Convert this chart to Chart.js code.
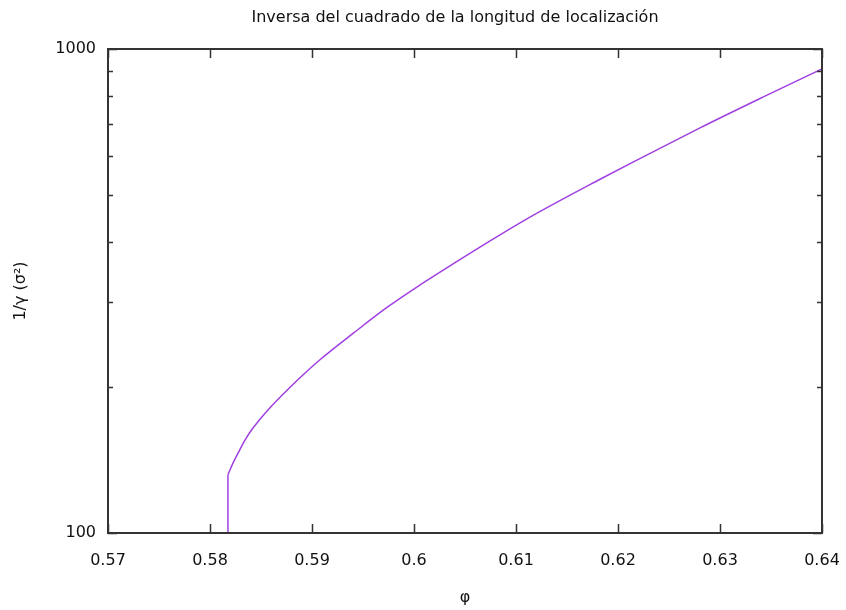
<!DOCTYPE html>
<html>
<head>
<meta charset="utf-8">
<script src="https://cdn.jsdelivr.net/npm/chart.js@4.4.1/dist/chart.umd.min.js"></script>
<style>
  body { margin: 0; background: #fff; }
</style>
</head>
<body>
<canvas id="myChart" width="846" height="610"></canvas>
<script>
// values
const edgePhi = [0.58176, 0.58176];
const edgeValue = [100, 132];
const phi = [0.58176, 0.58225, 0.58275, 0.58343, 0.58412, 0.5849, 0.58588, 0.58755,
  0.58882, 0.59078, 0.59402, 0.59735, 0.60059, 0.60402, 0.60843, 0.61167,
  0.61824, 0.62147, 0.62804, 0.63461, 0.64];
const invGamma = [132, 139.4, 146.2, 155.5, 163.8, 171.8, 181.5, 197.2,
  209.3, 228, 258.4, 292.4, 325.4, 361.9, 413.1, 453.2,
  538.2, 584, 687, 802.7, 910];
const xTicks = [0.57, 0.58, 0.59, 0.6, 0.61, 0.62, 0.63, 0.64];
const yTicks = [100, 200, 300, 400, 500, 600, 700, 800, 900, 1000];
const yLabels = [100, 1000];

const titleText = "Inversa del cuadrado de la longitud de localización";
const font = "DejaVu Sans";
const axisColor = "#333333";
const textColor = "#111111";
const lineColor = "#a040e0";

// gnuplot-like frame: inward ticks on all four sides, plus the title
const frame = {
  id: "frame",
  afterDraw(chart) {
    const ctx = chart.ctx;
    const a = chart.chartArea;
    const xs = chart.scales.x;
    const ys = chart.scales.y;
    ctx.save();
    ctx.strokeStyle = axisColor;
    ctx.lineWidth = 1.5;
    ctx.beginPath();
    xTicks.forEach(function (t) {
      const px = Math.round(xs.getPixelForValue(t)) + 0.5;
      ctx.moveTo(px, a.bottom);
      ctx.lineTo(px, a.bottom - 9);
      ctx.moveTo(px, a.top);
      ctx.lineTo(px, a.top + 9);
    });
    yTicks.forEach(function (t) {
      const py = Math.round(ys.getPixelForValue(t)) + 0.5;
      const len = yLabels.includes(t) ? 9 : 5;
      ctx.moveTo(a.left, py);
      ctx.lineTo(a.left + len, py);
      ctx.moveTo(a.right, py);
      ctx.lineTo(a.right - len, py);
    });
    ctx.stroke();
    ctx.lineWidth = 2;
    ctx.strokeRect(a.left, a.top, a.right - a.left, a.bottom - a.top);

    ctx.fillStyle = textColor;
    ctx.font = "16px '" + font + "'";
    ctx.textAlign = "center";
    ctx.textBaseline = "middle";
    ctx.fillText(titleText, 455, 18);
    ctx.restore();
  },
};

const ctx = document.getElementById("myChart");
const myChart = new Chart(ctx, {
  type: "scatter",
  data: {
    datasets: [
      {
        label: "edge",
        data: edgePhi.map((p, i) => ({ x: p, y: edgeValue[i] })),
        showLine: true,
        borderColor: lineColor,
        borderWidth: 1.5,
        pointRadius: 0,
        tension: 0,
      },
      {
        label: "1/γ",
        data: phi.map((p, i) => ({ x: p, y: invGamma[i] })),
        showLine: true,
        borderColor: lineColor,
        borderWidth: 1.5,
        pointRadius: 0,
        cubicInterpolationMode: "monotone",
      },
    ],
  },
  options: {
    responsive: false,
    animation: false,
    devicePixelRatio: 1,
    layout: { padding: { left: 0, right: 24, top: 49, bottom: 0 } },
    plugins: {
      legend: { display: false },
      tooltip: { enabled: false },
    },
    scales: {
      x: {
        type: "linear",
        min: 0.57,
        max: 0.64,
        afterBuildTicks: (s) => { s.ticks = xTicks.map((v) => ({ value: v })); },
        afterFit: (s) => { s.height = 77; },
        grid: {
          display: true,
          drawOnChartArea: false,
          drawTicks: true,
          tickLength: 12,
          tickColor: "rgba(0,0,0,0)",
        },
        border: { display: false },
        ticks: {
          autoSkip: false,
          maxRotation: 0,
          padding: 6,
          color: textColor,
          font: { family: font, size: 16 },
          callback: (v) => String(v),
        },
        title: {
          display: true,
          text: "φ",
          color: textColor,
          font: { family: font, size: 16 },
          padding: { top: 0, bottom: 3 },
        },
      },
      y: {
        type: "logarithmic",
        min: 100,
        max: 1000,
        afterBuildTicks: (s) => { s.ticks = yTicks.map((v) => ({ value: v })); },
        afterFit: (s) => { s.width = 108; },
        grid: { display: false, drawTicks: false },
        border: { display: false },
        ticks: {
          autoSkip: false,
          padding: 12,
          color: textColor,
          font: { family: font, size: 16 },
          callback: (v) => (yLabels.includes(v) ? String(v) : ""),
        },
        title: {
          display: true,
          text: "1/γ (σ²)",
          color: textColor,
          font: { family: font, size: 16 },
          padding: { top: 11, bottom: 0 },
        },
      },
    },
  },
  plugins: [frame],
});
</script>
</body>
</html>
